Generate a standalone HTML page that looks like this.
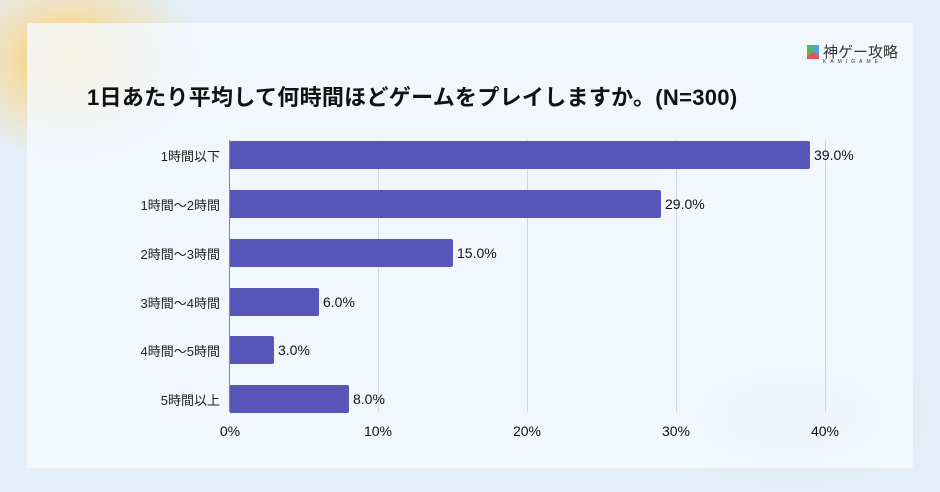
<!DOCTYPE html>
<html style="width:940px;height:492px;overflow:hidden"><head><meta charset="utf-8"><style>
body{margin:0;width:940px;height:492px;overflow:hidden;background:#e3eef8;font-family:"Liberation Sans","Noto Sans CJK JP",sans-serif}
.wrap{position:relative;width:940px;height:492px;overflow:hidden}
.blob1{position:absolute;left:-60px;top:-40px;width:260px;height:200px;border-radius:50%;background:radial-gradient(closest-side,rgba(255,196,60,.9),rgba(255,210,120,.5) 50%,rgba(255,230,180,0))}
.blob2{position:absolute;left:640px;top:340px;width:300px;height:152px;background:radial-gradient(closest-side,rgba(200,190,250,.7),rgba(220,235,230,.3) 60%,rgba(230,240,250,0))}
.card{position:absolute;left:27px;top:23px;width:886px;height:445px;background:rgba(243,248,253,.85)}
.t{position:absolute;white-space:nowrap;color:#111}
.grid{position:absolute;top:140px;height:272px;width:1px;background:#cfd6dd}
.bar{position:absolute;left:230px;height:28px;background:#5856b8;border-radius:0 2px 2px 0}
.lab{position:absolute;right:720px;font-size:13px;color:#222;text-align:right;white-space:nowrap}
.val{position:absolute;font-size:14px;color:#111}
.tick{position:absolute;top:423px;font-size:14px;color:#111;transform:translateX(-50%)}
</style></head><body><div class="wrap">
<div class="blob1"></div><div class="blob2"></div>
<div class="card"></div>
<div class="t" style="left:87px;top:80px;font-size:22px;font-weight:bold;letter-spacing:0.3px">1日あたり平均して何時間ほどゲームをプレイしますか。(N=300)</div>
<div style="position:absolute;left:807px;top:45px;width:12px;height:14px;background:conic-gradient(#4aa3df 0 33%,#e25555 0 66%,#52b862 0)"></div>
<div class="t" style="left:823px;top:41px;font-size:15px;color:#333">神ゲー攻略</div>
<div class="t" style="left:823px;top:59px;font-size:5px;letter-spacing:4px;color:#333">KAMIGAME</div>
<div class="grid" style="left:378px"></div>
<div class="grid" style="left:527px"></div>
<div class="grid" style="left:676px"></div>
<div class="grid" style="left:825px"></div>
<div class="grid" style="left:229px;background:#888"></div>
<div class="bar" style="top:141px;width:580px"></div>
<div class="bar" style="top:190px;width:431px"></div>
<div class="bar" style="top:239px;width:223px"></div>
<div class="bar" style="top:288px;width:89px"></div>
<div class="bar" style="top:336px;width:44px"></div>
<div class="bar" style="top:385px;width:119px"></div>
<div class="lab" style="top:146px">1時間以下</div>
<div class="lab" style="top:195px">1時間〜2時間</div>
<div class="lab" style="top:244px">2時間〜3時間</div>
<div class="lab" style="top:293px">3時間〜4時間</div>
<div class="lab" style="top:341px">4時間〜5時間</div>
<div class="lab" style="top:390px">5時間以上</div>
<div class="val" style="left:814px;top:147px">39.0%</div>
<div class="val" style="left:665px;top:196px">29.0%</div>
<div class="val" style="left:457px;top:245px">15.0%</div>
<div class="val" style="left:323px;top:294px">6.0%</div>
<div class="val" style="left:278px;top:342px">3.0%</div>
<div class="val" style="left:353px;top:391px">8.0%</div>
<div class="tick" style="left:230px">0%</div>
<div class="tick" style="left:378px">10%</div>
<div class="tick" style="left:527px">20%</div>
<div class="tick" style="left:676px">30%</div>
<div class="tick" style="left:825px">40%</div>
</div></body></html>
